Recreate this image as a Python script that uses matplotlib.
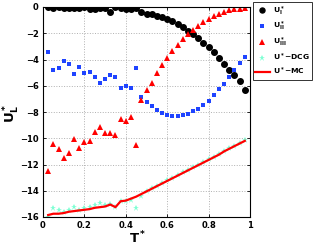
import matplotlib
matplotlib.use("Agg")
import matplotlib.pyplot as plt

T = [0.025, 0.05, 0.075, 0.1, 0.125, 0.15, 0.175, 0.2, 0.225, 0.25,
     0.275, 0.3, 0.325, 0.35, 0.375, 0.4, 0.425, 0.45, 0.475, 0.5,
     0.525, 0.55, 0.575, 0.6, 0.625, 0.65, 0.675, 0.7, 0.725, 0.75,
     0.775, 0.8, 0.825, 0.85, 0.875, 0.9, 0.925, 0.95, 0.975]

U_I = [-0.02, -0.1, 0.0, -0.05, -0.08, -0.08, -0.05, -0.02, -0.15, -0.15,
       -0.08, -0.05, -0.35, 0.0, -0.1, -0.15, -0.15, -0.1, -0.4, -0.5,
       -0.56, -0.67, -0.77, -0.9, -1.08, -1.33, -1.54, -1.8, -2.05, -2.38,
       -2.72, -3.08, -3.46, -3.85, -4.36, -4.82, -5.18, -5.64, -6.3]

U_II = [-3.4, -4.8, -4.65, -4.1, -4.35, -5.1, -4.6, -5.0, -4.95, -5.35,
        -5.8, -5.45, -5.2, -5.35, -6.2, -6.0, -6.15, -4.65, -6.85, -7.25,
        -7.55, -7.85, -8.05, -8.2, -8.3, -8.33, -8.26, -8.15, -7.95, -7.74,
        -7.49, -7.13, -6.72, -6.28, -5.85, -5.33, -4.8, -4.28, -3.8]

U_III = [-12.5, -10.4, -10.8, -11.5, -11.1, -10.05, -10.75, -10.25, -10.2, -9.55,
         -9.15, -9.6, -9.6, -9.75, -8.55, -8.65, -8.35, -10.5, -7.1, -6.35,
         -5.8, -5.05, -4.45, -3.9, -3.33, -2.9, -2.45, -2.05, -1.72, -1.41,
         -1.15, -0.9, -0.69, -0.51, -0.38, -0.26, -0.18, -0.13, -0.05]

U_DCG = [-16.0, -15.35, -15.5, -15.65, -15.5, -15.2, -15.5, -15.35, -15.2, -15.05,
         -14.95, -15.1, -15.0, -15.2, -14.8, -14.75, -14.7, -15.35, -14.4, -14.0,
         -13.8, -13.6, -13.4, -13.2, -13.0, -12.8, -12.6, -12.4, -12.2, -12.0,
         -11.8, -11.6, -11.4, -11.2, -10.97, -10.77, -10.57, -10.37, -10.17]

U_MC = [-15.85, -15.75, -15.75, -15.7, -15.6, -15.55, -15.5, -15.45, -15.4, -15.3,
        -15.25, -15.2, -15.05, -15.25, -14.8, -14.75, -14.6, -14.45, -14.25, -14.05,
        -13.85, -13.65, -13.45, -13.25, -13.05, -12.85, -12.65, -12.45, -12.25, -12.05,
        -11.85, -11.65, -11.45, -11.25, -11.0, -10.8, -10.6, -10.4, -10.2]

xticks = [0, 0.2, 0.4, 0.6, 0.8, 1]
xticklabels = ["0", "0.2", "0.4", "0.6", "0.8", "1"]
yticks = [-16, -14, -12, -10, -8, -6, -4, -2, 0]
yticklabels = ["\u221216", "\u221214", "\u221212", "\u221210", "\u22128", "\u22126", "\u22124", "\u22122", "0"]

fig = plt.figure(figsize=(3.16, 2.46), dpi=100)
ax = fig.add_axes([43/316, 1 - 217/246, 207/316, 210/246])

ax.plot(T, U_I, 'o', color='black', markersize=4, label=r'$\mathbf{U^*_I}$')
ax.plot(T, U_II, 's', color='#1f44ff', markersize=3.2, markeredgewidth=0, label=r'$\mathbf{U^*_{II}}$')
ax.plot(T, U_III, '^', color='red', markersize=4.2, markeredgewidth=0, label=r'$\mathbf{U^*_{III}}$')
ax.plot(T, U_DCG, '*', color='#7fffd4', markersize=5, markeredgewidth=0, label=r'$\mathbf{U^*}$' + '\u2212DCG')
ax.plot(T, U_MC, '-', color='red', linewidth=1.6, label=r'$\mathbf{U^*}$' + '\u2212MC')

ax.set_xlim(0, 1)
ax.set_ylim(-16, 0)
ax.set_xticks(xticks)
ax.set_xticklabels(xticklabels, fontsize=6, fontweight='bold')
ax.set_yticks(yticks)
ax.set_yticklabels(yticklabels, fontsize=6, fontweight='bold')
ax.tick_params(direction='in', length=2.5, width=0.6, top=True, right=True, pad=3)
ax.grid(True, linestyle=':', color='#b0b0b0', linewidth=0.7)
for s in ax.spines.values():
    s.set_linewidth(0.8)

fig.text(138/316, 1 - 238/246, r'$\mathbf{T^*}$', fontsize=9.5, ha='center', va='center')
fig.text(12/316, 1 - 113/246, r'$\mathbf{U^*_L}$', fontsize=9.5, ha='center', va='center', rotation=90)

leg = fig.legend(loc='upper left', bbox_to_anchor=(253/316, 1 - 2/246),
                 fontsize=5.4, frameon=True, fancybox=False, edgecolor='black',
                 borderpad=0.3, labelspacing=0.35, handlelength=1.9, handletextpad=0.5,
                 borderaxespad=0, markerscale=0.9)
leg.get_frame().set_linewidth(0.7)
for t in leg.get_texts():
    t.set_fontweight('bold')

fig.savefig('out.png', dpi=100)
